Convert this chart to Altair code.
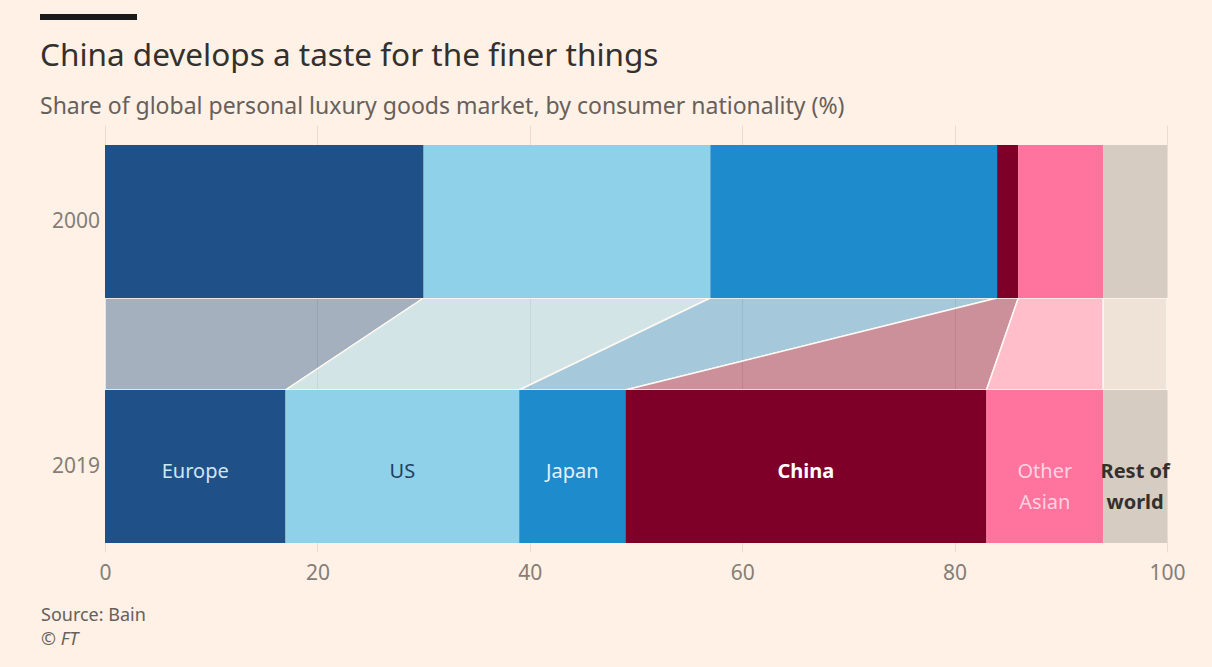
import altair as alt
import numpy as np
import pandas as pd

# ---- data ----
categories = ["Europe", "US", "Japan", "China", "Other Asian", "Rest of world"]
labels = ["Europe", "US", "Japan", "China", "Other\nAsian", "Rest of\nworld"]
share_2000 = [30, 27, 27, 2, 8, 6]
share_2019 = [17, 22, 10, 34, 11, 6]
years = ["2000", "2019"]
x_ticks = [0, 20, 40, 60, 80, 100]

colors = ["#1F5087", "#8FD1E8", "#1E8BCD", "#7E0029", "#FF739F", "#D7CCC1"]
label_colors = ["#CFE6F5", "#1F4060", "#E3F1FA", "#FFFFFF", "#FFD3DF", "#33302E"]
label_bold = [False, False, False, True, False, True]

title = "China develops a taste for the finer things"
subtitle = "Share of global personal luxury goods market, by consumer nationality (%)"
source = "Source: Bain"
credit = "© FT"

# ---- layout (pixels within plot area) ----
W, H = 1062, 427
BAR_H = 153
Y2000_TOP = 20
Y2019_TOP = 265

FONT = "Noto Sans"
BG = "#FFF1E5"
GREY = "#857D77"

e00 = np.cumsum(share_2000)
s00 = e00 - np.array(share_2000)
e19 = np.cumsum(share_2019)
s19 = e19 - np.array(share_2019)

bars = []
for i, c in enumerate(categories):
    bars.append(dict(cat=c, x0=s00[i], x1=e00[i], y0=Y2000_TOP, y1=Y2000_TOP + BAR_H))
    bars.append(dict(cat=c, x0=s19[i], x1=e19[i], y0=Y2019_TOP, y1=Y2019_TOP + BAR_H))
bars = pd.DataFrame(bars)

conn = []
for i, c in enumerate(categories):
    conn.append(dict(cat=c, x0=s00[i], x1=e00[i], y=Y2000_TOP + BAR_H))
    conn.append(dict(cat=c, x0=s19[i], x1=e19[i], y=Y2019_TOP))
conn = pd.DataFrame(conn)

lab = pd.DataFrame(dict(cat=categories, label=labels,
                        xc=(s19 + e19) / 2.0, lc=label_colors, bold=label_bold))

yr = pd.DataFrame(dict(year=years, yc=[Y2000_TOP + BAR_H / 2, Y2019_TOP + BAR_H / 2]))

xscale = alt.Scale(domain=[0, 100], nice=False, zero=False)
yscale = alt.Scale(domain=[0, H], reverse=True, nice=False, zero=False)
cscale = alt.Scale(domain=categories, range=colors)

xaxis = alt.Axis(values=x_ticks, grid=True, gridColor="#E9DCD1", gridWidth=1,
                 domain=False, ticks=False, labelFontSize=21, labelColor=GREY,
                 labelFont=FONT, labelPadding=10, labelFlush=False, title=None)

base_grid = alt.Chart(pd.DataFrame(dict(v=x_ticks))).mark_rule(opacity=0).encode(
    x=alt.X("v:Q", scale=xscale, axis=xaxis)
)

connectors = alt.Chart(conn).mark_area(
    orient="horizontal", fillOpacity=0.4, stroke="#FFF8F2", strokeWidth=1.5
).encode(
    y=alt.Y("y:Q", scale=yscale, axis=None),
    x=alt.X("x0:Q", scale=xscale, axis=xaxis),
    x2="x1:Q",
    color=alt.Color("cat:N", scale=cscale, legend=None),
    detail="cat:N",
)

rects = alt.Chart(bars).mark_rect().encode(
    x=alt.X("x0:Q", scale=xscale, axis=xaxis),
    x2="x1:Q",
    y=alt.Y("y0:Q", scale=yscale, axis=None),
    y2="y1:Q",
    color=alt.Color("cat:N", scale=cscale, legend=None),
)

def label_layer(bold):
    return alt.Chart(lab).transform_filter(
        alt.datum.bold == bold
    ).mark_text(
        font=FONT, fontSize=20, baseline="middle", align="center", lineBreak="\n",
        lineHeight=31, fontWeight="bold" if bold else "normal"
    ).encode(
        x=alt.X("xc:Q", scale=xscale, axis=xaxis),
        y=alt.value(Y2019_TOP + BAR_H / 2 + 5),
        text="label:N",
        color=alt.Color("lc:N", scale=None),
    )

year_layer = alt.Chart(yr).mark_text(
    font=FONT, fontSize=21, color=GREY, align="right", baseline="middle"
).encode(
    x=alt.value(-5),
    y=alt.Y("yc:Q", scale=yscale, axis=None),
    text="year:N",
)

def txt(t, x, y, size, color, weight="normal", style="normal"):
    return alt.Chart(pd.DataFrame(dict(t=[t]))).mark_text(
        font=FONT, fontSize=size, color=color, align="left", baseline="middle",
        fontWeight=weight, fontStyle=style
    ).encode(text="t:N", x=alt.value(x), y=alt.value(y))

title_layer = txt(title, -65, -68, 31.5, "#33302E")
subtitle_layer = txt(subtitle, -65, -18, 23, "#66605C")
source_layer = txt(source, -64, 491, 18, "#66605C")
credit_layer = txt(credit, -64, 515, 18, "#66605C", style="italic")

topbar = alt.Chart(pd.DataFrame(dict(a=[0]))).mark_rule(color="#1A1A1A", strokeWidth=6).encode(
    x=alt.value(-65), x2=alt.value(32), y=alt.value(-108)
)

chart = alt.layer(
    base_grid, connectors, rects, label_layer(False), label_layer(True), year_layer,
    title_layer, subtitle_layer, source_layer, credit_layer, topbar
).properties(
    width=W, height=H,
    background=BG,
    padding={"left": 105, "top": 125, "right": 45, "bottom": 115},
    autosize=alt.AutoSizeParams(type="none"),
).configure_view(stroke=None)

chart.save("out.html", embed_options={"renderer": "svg", "actions": False})
